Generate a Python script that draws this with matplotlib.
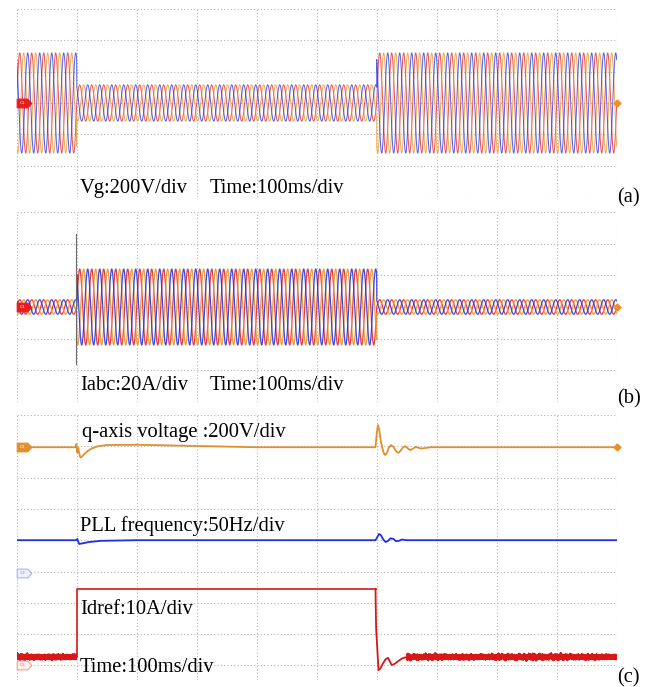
import matplotlib.pyplot as plt
from matplotlib.path import Path
import numpy as np

# ---- data (time in s, amplitude in divisions) ----
t_edges = [0.0, 0.1, 0.6, 1.0]
freq = 50
phase_deg = [0, -120, 120]
phase_colors = ['#e02a2a', '#e8962e', '#2a36e0']

vg_amp = [1.6, 0.58, 1.6]      # Vg, 200 V/div
iabc_amp = [0.23, 1.2, 0.23]   # Iabc, 20 A/div
spike_t = 0.099
spike_lo, spike_hi = -1.8, 2.3

# panel (c): divisions counted downward from the top grid line
q_t = [0.0, 0.098, 0.0995, 0.101, 0.1025, 0.104, 0.106, 0.108, 0.112, 0.118, 0.125, 0.135,
       0.150, 0.20, 0.30, 0.40,
       0.598, 0.600, 0.602, 0.604, 0.607, 0.611, 0.614, 0.617, 0.620, 0.624, 0.628, 0.632,
       0.636, 0.640, 0.644, 0.648, 0.652, 0.656, 0.660, 0.665, 0.670, 0.675, 0.69, 1.0]
q_v = [1.03, 1.03, 0.93, 1.2, 1.05, 1.2, 1.35, 1.34, 1.26, 1.15, 1.07, 1.0,
       0.96, 0.95, 0.99, 1.03,
       1.03, 0.6, 0.32, 0.45, 0.85, 1.18, 1.28, 1.22, 1.05, 0.96, 1.02, 1.15,
       1.21, 1.14, 1.03, 1.0, 1.07, 1.12, 1.08, 1.02, 1.05, 1.07, 1.03, 1.03]

pll_t = [0.0, 0.099, 0.101, 0.104, 0.110, 0.120, 0.140, 0.2,
         0.598, 0.601, 0.604, 0.607, 0.611, 0.615, 0.619, 0.623, 0.628, 0.632, 0.637, 0.642,
         0.650, 1.0]
pll_v = [4.0, 4.0, 3.96, 4.12, 4.10, 4.06, 4.02, 4.0,
         4.0, 3.9, 3.80, 3.84, 3.98, 4.06, 4.02, 3.94, 3.96, 4.03, 4.02, 3.98,
         4.0, 4.0]

idref_low = 7.73
idref_high = 5.56
idref_tr_t = [0.598, 0.599, 0.603, 0.606, 0.611, 0.615, 0.619, 0.625, 0.630, 0.634, 0.642, 0.650]
idref_tr_v = [5.56, 6.8, 8.15, 8.1, 7.92, 7.8, 7.76, 7.99, 7.95, 7.89, 7.78, 7.73]

# ---- figure geometry (pixels) ----
W, H = 668, 687
fig = plt.figure(figsize=(W / 100, H / 100), dpi=100)
x0, x1 = 16.7, 616.7


def add_panel(top, bottom):
    return fig.add_axes([x0 / W, 1 - bottom / H, (x1 - x0) / W, (bottom - top) / H])


grid_kw = dict(color='#b5b5b5', lw=0.8, ls=(0, (1, 2)))


def style(ax, yticks):
    ax.set_xlim(0, 1)
    ax.set_xticks(np.arange(0, 1.01, 0.1))
    ax.set_yticks(yticks)
    ax.grid(True, **grid_kw)
    for s in ax.spines.values():
        s.set_visible(False)
    ax.tick_params(length=0, labelbottom=False, labelleft=False)
    ax.set_axisbelow(True)


tag_path = Path([(-1, -0.6), (0.45, -0.6), (1, 0), (0.45, 0.6), (-1, 0.6), (-1, -0.6)],
                [Path.MOVETO, Path.LINETO, Path.LINETO, Path.LINETO, Path.LINETO, Path.CLOSEPOLY])


def tag(ax, y, face, edge, label, tcol):
    ax.plot([0.012], [y], marker=tag_path, ms=10.5, mfc=face, mec=edge, mew=0.8,
            clip_on=False, zorder=6)
    ax.text(0.0105, y, label, fontsize=3.2, color=tcol, ha='center', va='center',
            zorder=7, clip_on=False)


t = np.linspace(0, 1, 30001)
seg = [t < t_edges[1], t < t_edges[2], np.ones_like(t, bool)]

# ---- (a) grid voltage ----
ax_a = add_panel(9, 197)
style(ax_a, np.arange(-3, 3.1, 1))
ax_a.set_ylim(-3, 3)
amp = np.select(seg, vg_amp)
for ph, c in zip(phase_deg, phase_colors):
    ax_a.plot(t, amp * np.sin(2 * np.pi * freq * t + np.radians(ph)), color=c, lw=0.7, alpha=0.8)
tag(ax_a, 0, '#e81c1c', '#e81c1c', 'C1', 'white')
ax_a.plot([1.0], [0], marker='D', ms=3.5, color='#e8902a', clip_on=False, zorder=6)

# ---- (b) inverter currents ----
ax_b = add_panel(212, 402)
style(ax_b, np.arange(-3, 3.1, 1))
ax_b.set_ylim(-3, 3)
amp = np.select(seg, iabc_amp)
for ph, c in zip(phase_deg, phase_colors):
    ax_b.plot(t, amp * np.sin(2 * np.pi * freq * t + np.radians(ph)), color=c, lw=0.9, alpha=0.9)
ax_b.plot([spike_t, spike_t], [spike_lo, spike_hi], color='#6a6a6a', lw=0.8)
tag(ax_b, 0, '#e81c1c', '#e81c1c', 'C1', 'white')
ax_b.plot([1.0], [0], marker='D', ms=3.5, color='#e8902a', clip_on=False, zorder=6)

# ---- (c) q-axis voltage, PLL frequency, Idref ----
ax_c = add_panel(415, 680)
style(ax_c, np.arange(0, 8.1, 1))
ax_c.set_ylim(265 / 31.3, 0)
ax_c.plot(q_t, q_v, color='#e0902e', lw=1.3)
ax_c.plot([1.0], [1.03], marker='D', ms=3.5, color='#e0902e', clip_on=False, zorder=6)
ax_c.plot(pll_t, pll_v, color='#2030e0', lw=1.3)

# measurement noise on the Idref trace (texture only)
ripple = (0.035 * np.sin(2 * np.pi * 1237.3 * t) + 0.03 * np.sin(2 * np.pi * 1789.1 * t + 0.7)
          + 0.03 * np.sin(2 * np.pi * 2911.7 * t + 2.1) + 0.025 * np.sin(2 * np.pi * 3467.9 * t + 4.0)
          + 0.02 * np.sin(2 * np.pi * 5123.3 * t + 1.3) + 0.02 * np.sin(2 * np.pi * 613.7 * t + 5.2))
pre = t <= t_edges[1]
post = t >= idref_tr_t[-1]
red = '#d81818'
ax_c.plot(t[pre], idref_low + ripple[pre], color=red, lw=0.6)
ax_c.plot(t[post], idref_low + ripple[post], color=red, lw=0.6)
ax_c.plot([t_edges[1], t_edges[1], idref_tr_t[0]], [idref_low, idref_high, idref_high],
          color=red, lw=1.2)
ax_c.plot(idref_tr_t, idref_tr_v, color=red, lw=1.3)

tag(ax_c, 1.03, '#e0902e', '#e0902e', 'C1', 'white')
tag(ax_c, 5.05, '#eef0ff', '#aab2f2', 'C2', '#8890e8')
tag(ax_c, 8.0, '#ffeeee', '#f0a0a0', 'C3', '#e07070')

# ---- texts ----
font = dict(family='Liberation Serif', fontsize=14.8, color='black')


def label(x, y, s, **kw):
    fig.text(x / W, 1 - y / H, s, va='baseline', ha='left', **font, **kw)


label(80, 193, 'Vg:200V/div')
label(210, 193, 'Time:100ms/div')
label(617, 202, '(a)')
label(80, 390, 'Iabc:20A/div')
label(210, 390, 'Time:100ms/div')
label(617, 403, '(b)')
label(82, 437, 'q-axis voltage :200V/div')
label(80, 531, 'PLL frequency:50Hz/div')
label(80, 614, 'Idref:10A/div')
label(80, 672, 'Time:100ms/div')
label(617, 682, '(c)')

fig.savefig('out.png', dpi=100)
